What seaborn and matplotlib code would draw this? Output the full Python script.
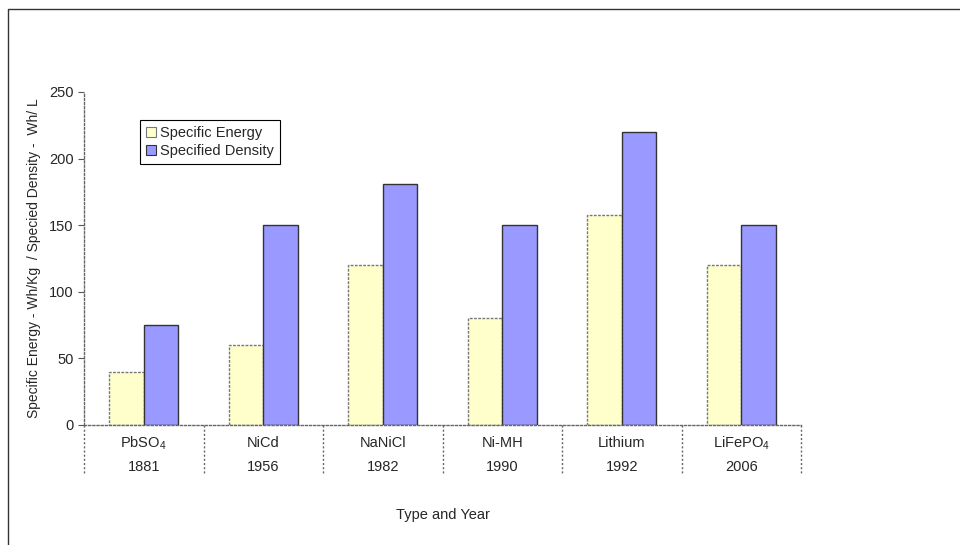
import pandas as pd
import matplotlib.pyplot as plt
import matplotlib.transforms as mtransforms
import seaborn as sns

# chart data
types = ['PbSO$_4$', 'NiCd', 'NaNiCl', 'Ni-MH', 'Lithium', 'LiFePO$_4$']
years = ['1881', '1956', '1982', '1990', '1992', '2006']
specific_energy = [40, 60, 120, 80, 158, 120]
specified_density = [75, 150, 181, 150, 220, 150]

df = pd.DataFrame({
    'Type': types * 2,
    'Value': specific_energy + specified_density,
    'Series': ['Specific Energy'] * 6 + ['Specified Density'] * 6,
})

sns.set_style('white')
plt.rcParams['font.family'] = ['Liberation Sans', 'DejaVu Sans']
plt.rcParams['mathtext.fontset'] = 'custom'
plt.rcParams['mathtext.rm'] = 'Liberation Sans'
plt.rcParams['mathtext.it'] = 'Liberation Sans'

fs = 10.5
fig = plt.figure(figsize=(9.6, 5.45), dpi=100)
ax = fig.add_axes([0.0875, 0.2202, 0.7469, 0.611])

sns.barplot(data=df, x='Type', y='Value', hue='Series', ax=ax,
            palette=['#FFFFCC', '#9999FF'], width=0.58, saturation=1)

# bar edges: dashed gray on yellow, solid dark on blue
for i, cont in enumerate(ax.containers):
    for bar in cont:
        if i == 0:
            bar.set_edgecolor('#777777')
            bar.set_linestyle((0, (2, 1)))
        else:
            bar.set_edgecolor('#333333')
        bar.set_linewidth(1)

ax.set_xlim(-0.5, 5.5)
ax.set_ylim(0, 250)
ax.set_yticks([0, 50, 100, 150, 200, 250])
ax.tick_params(axis='y', labelsize=fs, length=4, direction='out', left=True, color='#555555')
ax.set_xticks(range(6))
ax.set_xticklabels([])
ax.tick_params(axis='x', length=0)

for s in ['top', 'right']:
    ax.spines[s].set_visible(False)
for s in ['left', 'bottom']:
    ax.spines[s].set_linestyle((0, (1.5, 1.5)))
    ax.spines[s].set_color('#666666')
    ax.spines[s].set_linewidth(1)

# type and year rows and category separators under the axis
trans = mtransforms.blended_transform_factory(ax.transData, ax.transAxes)
for i, t in enumerate(types):
    ax.text(i, -0.067, t, transform=trans, ha='center', va='baseline', fontsize=fs)
for i, yr in enumerate(years):
    ax.text(i, -0.138, yr, transform=trans, ha='center', va='baseline', fontsize=fs)
for b in [x - 0.5 for x in range(7)]:
    ax.plot([b, b], [0, -0.15], transform=trans, clip_on=False,
            color='#666666', linewidth=1, linestyle=(0, (1.5, 1.5)))

ax.set_xlabel('Type and Year', fontsize=fs, labelpad=56)
ax.set_ylabel('Specific Energy - Wh/Kg  / Specied Density -  Wh/ L', fontsize=10, labelpad=6)

leg = ax.legend(loc='upper left', bbox_to_anchor=(0.078, 0.916), fontsize=fs,
                frameon=True, fancybox=False, edgecolor='black', framealpha=1,
                handlelength=0.7, handleheight=0.7, handletextpad=0.3,
                borderpad=0.4, labelspacing=0.3, borderaxespad=0)
leg.get_frame().set_linewidth(0.8)
for h, ec in zip(leg.legend_handles, ['#777777', '#333333']):
    h.set_edgecolor(ec)
    h.set_linewidth(0.8)

# outer frame of the picture
fig.add_artist(plt.Line2D([0.0083, 0.0083, 1.0], [0.0, 0.9835, 0.9835],
                          transform=fig.transFigure, color='#333333', linewidth=1))

fig.savefig('out.png', dpi=100)
